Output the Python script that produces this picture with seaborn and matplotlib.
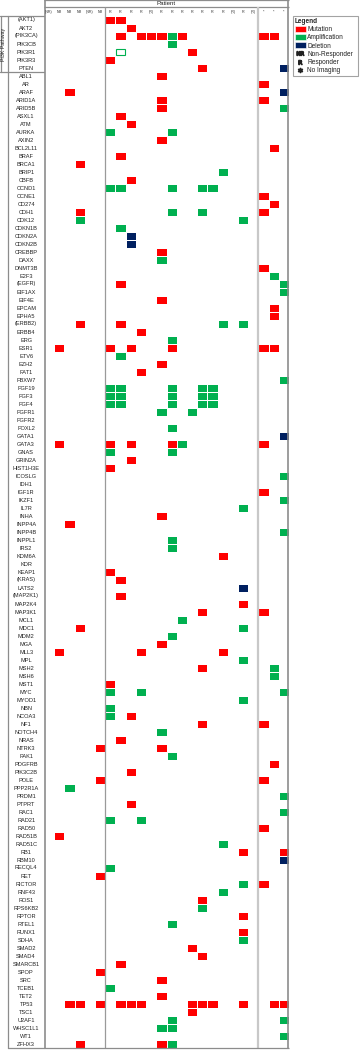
import numpy as np
import pandas as pd
import matplotlib
matplotlib.use("Agg")
import matplotlib.pyplot as plt
from matplotlib.colors import ListedColormap
from matplotlib.patches import Patch, Rectangle
from matplotlib.lines import Line2D
import seaborn as sns

# ---------------- data ----------------
genes = [
    "(AKT1)", "AKT2", "(PIK3CA)", "PIK3CB", "PIK3R1", "PIK3R3", "PTEN",
    "ABL1", "AR", "ARAF", "ARID1A", "ARID5B", "ASXL1", "ATM", "AURKA", "AXIN2",
    "BCL2L11", "BRAF", "BRCA1", "BRIP1", "CBFB", "CCND1", "CCNE1", "CD274",
    "CDH1", "CDK12", "CDKN1B", "CDKN2A", "CDKN2B", "CREBBP", "DAXX", "DNMT3B",
    "E2F3", "(EGFR)", "EIF1AX", "EIF4E", "EPCAM", "EPHA5", "(ERBB2)", "ERBB4",
    "ERG", "ESR1", "ETV6", "EZH2", "FAT1", "FBXW7", "FGF19", "FGF3", "FGF4",
    "FGFR1", "FGFR2", "FOXL2", "GATA1", "GATA3", "GNAS", "GRIN2A", "HIST1H3E",
    "ICOSLG", "IDH1", "IGF1R", "IKZF1", "IL7R", "INHA", "INPP4A", "INPP4B",
    "INPPL1", "IRS2", "KDM6A", "KDR", "KEAP1", "(KRAS)", "LATS2", "(MAP2K1)",
    "MAP2K4", "MAP3K1", "MCL1", "MDC1", "MDM2", "MGA", "MLL3", "MPL", "MSH2",
    "MSH6", "MST1", "MYC", "MYOD1", "NBN", "NCOA3", "NF1", "NOTCH4", "NRAS",
    "NTRK3", "PAK1", "PDGFRB", "PIK3C2B", "POLE", "PPP2R1A", "PRDM1", "PTPRT",
    "RAC1", "RAD21", "RAD50", "RAD51B", "RAD51C", "RB1", "RBM10", "RECQL4",
    "RET", "RICTOR", "RNF43", "ROS1", "RPS6KB2", "RPTOR", "RTEL1", "RUNX1",
    "SDHA", "SMAD2", "SMAD4", "SMARCB1", "SPOP", "SRC", "TCEB1", "TET2", "TP53",
    "TSC1", "U2AF1", "WHSC1L1", "WT1", "ZFHX3",
]
n_pi3k = 7
pathway_label = "PI3K Pathway"

patient_labels = ["(NR)", "NR", "NR", "NR", "(NR)", "NR",
                  "R", "R", "R", "R", "(R)", "R", "R", "R", "R", "R", "R", "R",
                  "(R)", "R", "(R)",
                  "*", "*", "*"]

# (gene, patient column index)
mutations = [
    ("(AKT1)", 6), ("(AKT1)", 7), ("AKT2", 8),
    ("(PIK3CA)", 7), ("(PIK3CA)", 9), ("(PIK3CA)", 10), ("(PIK3CA)", 11),
    ("(PIK3CA)", 13), ("(PIK3CA)", 21), ("(PIK3CA)", 22),
    ("PIK3R1", 14), ("PIK3R3", 6), ("PTEN", 15),
    ("ABL1", 11), ("AR", 21), ("ARAF", 2), ("ARID1A", 11), ("ARID1A", 21),
    ("ARID5B", 11), ("ASXL1", 7), ("ATM", 8), ("AXIN2", 11), ("BCL2L11", 22),
    ("BRAF", 7), ("BRCA1", 3), ("CBFB", 8), ("CCNE1", 21), ("CD274", 22),
    ("CDH1", 3), ("CDH1", 21), ("CREBBP", 11), ("DNMT3B", 21), ("(EGFR)", 7),
    ("EIF4E", 11), ("EPCAM", 22), ("EPHA5", 22), ("(ERBB2)", 3), ("(ERBB2)", 7),
    ("ERBB4", 9), ("ESR1", 1), ("ESR1", 6), ("ESR1", 8), ("ESR1", 12),
    ("ESR1", 21), ("ESR1", 22), ("EZH2", 11), ("FAT1", 9),
    ("GATA3", 1), ("GATA3", 6), ("GATA3", 8), ("GATA3", 12), ("GATA3", 21),
    ("GRIN2A", 8), ("HIST1H3E", 6), ("IGF1R", 21), ("INHA", 11), ("INPP4A", 2),
    ("KDM6A", 17), ("KEAP1", 6), ("(KRAS)", 7), ("(MAP2K1)", 7), ("MAP2K4", 19),
    ("MAP3K1", 15), ("MAP3K1", 21), ("MDC1", 3), ("MGA", 11),
    ("MLL3", 1), ("MLL3", 9), ("MLL3", 17), ("MSH2", 15), ("MST1", 6),
    ("NCOA3", 8), ("NF1", 15), ("NF1", 21), ("NRAS", 7), ("NTRK3", 5),
    ("NTRK3", 11), ("PDGFRB", 22), ("PIK3C2B", 8), ("POLE", 5), ("POLE", 21),
    ("PTPRT", 8), ("RAD50", 21), ("RAD51B", 1), ("RB1", 19), ("RB1", 23),
    ("RET", 5), ("RICTOR", 21), ("ROS1", 15), ("RPTOR", 19), ("RUNX1", 19),
    ("SMAD2", 14), ("SMAD4", 15), ("SMARCB1", 7), ("SPOP", 5), ("SRC", 11),
    ("TET2", 11),
    ("TP53", 2), ("TP53", 3), ("TP53", 5), ("TP53", 7), ("TP53", 8), ("TP53", 9),
    ("TP53", 14), ("TP53", 15), ("TP53", 16), ("TP53", 19), ("TP53", 22),
    ("TP53", 23),
    ("TSC1", 14), ("ZFHX3", 3), ("ZFHX3", 11),
]

amplifications = [
    ("(PIK3CA)", 12), ("PIK3CB", 12), ("ARID5B", 23), ("AURKA", 6), ("AURKA", 12),
    ("BRIP1", 17), ("CCND1", 6), ("CCND1", 7), ("CCND1", 12), ("CCND1", 15),
    ("CCND1", 16), ("CDH1", 12), ("CDH1", 15), ("CDK12", 3), ("CDK12", 19),
    ("CDKN1B", 7), ("DAXX", 11), ("E2F3", 22), ("(EGFR)", 23), ("EIF1AX", 23),
    ("(ERBB2)", 17), ("(ERBB2)", 19), ("ERG", 12), ("ETV6", 7), ("FBXW7", 23),
    ("FGF19", 6), ("FGF19", 7), ("FGF19", 12), ("FGF19", 15), ("FGF19", 16),
    ("FGF3", 6), ("FGF3", 7), ("FGF3", 12), ("FGF3", 15), ("FGF3", 16),
    ("FGF4", 6), ("FGF4", 7), ("FGF4", 12), ("FGF4", 15), ("FGF4", 16),
    ("FGFR1", 11), ("FGFR1", 14), ("FOXL2", 12), ("GATA3", 13), ("GNAS", 6),
    ("GNAS", 12), ("ICOSLG", 23), ("IKZF1", 23), ("IL7R", 19), ("INPP4B", 23),
    ("INPPL1", 12), ("IRS2", 12), ("MCL1", 13), ("MDC1", 19), ("MDM2", 12),
    ("MPL", 19), ("MSH2", 22), ("MSH6", 22), ("MYC", 6), ("MYC", 9), ("MYC", 23),
    ("MYOD1", 19), ("NBN", 6), ("NCOA3", 6), ("NOTCH4", 11), ("PAK1", 12),
    ("PPP2R1A", 2), ("PRDM1", 23), ("RAC1", 23), ("RAD21", 6), ("RAD21", 9),
    ("RAD51C", 17), ("RECQL4", 6), ("RICTOR", 19), ("RNF43", 17),
    ("RPS6KB2", 15), ("RTEL1", 12), ("SDHA", 19), ("TCEB1", 6), ("U2AF1", 12),
    ("U2AF1", 23), ("WHSC1L1", 11), ("WHSC1L1", 12), ("WT1", 23), ("ZFHX3", 12),
]

deletions = [
    ("PTEN", 23), ("ARAF", 23), ("CDKN2A", 8), ("CDKN2B", 8), ("GATA1", 23),
    ("LATS2", 19), ("RBM10", 23),
]

outlined_amplifications = [("PIK3R1", 7)]

legend_labels = ["Mutation", "Amplification", "Deletion",
                 "Non-Responder", "Responder", "No Imaging"]

# ---------------- style ----------------
RED, GREEN, NAVY = "#FF0000", "#00B050", "#002060"
sns.set_style("white")
plt.rcParams["font.family"] = ["Liberation Sans", "DejaVu Sans"]

W, H = 360, 1050
def fx(px): return px / W
def fy(py): return 1 - py / H

n_rows, n_cols = len(genes), len(patient_labels)
codes = pd.DataFrame(0, index=genes, columns=range(n_cols))
for g, c in mutations:
    codes.loc[g, c] = 1
for g, c in amplifications:
    codes.loc[g, c] = 2
for g, c in deletions:
    codes.loc[g, c] = 3

fig = plt.figure(figsize=(W / 100, H / 100), dpi=100)
grid_top, grid_bot = 16, 1048
row_px = (grid_bot - grid_top) / n_rows
header_rows = grid_top / row_px
ax = fig.add_axes([fx(44), fy(grid_bot), fx(289) - fx(44), grid_bot / H])

sns.heatmap(codes, mask=(codes == 0), cmap=ListedColormap([RED, GREEN, NAVY]),
            vmin=0.5, vmax=3.5, cbar=False, linewidths=0.55, linecolor="white",
            xticklabels=False, yticklabels=genes, ax=ax)
ax.set_xlim(0, n_cols)
ax.set_ylim(n_rows, -header_rows)
for s in ax.spines.values():
    s.set_visible(False)
ax.set_ylabel("")
ax.set_xlabel("")
ax.tick_params(axis="y", length=0, pad=12.9, labelsize=4.1, labelcolor="#222222")
for t in ax.get_yticklabels():
    t.set_ha("center")
    t.set_rotation(0)

for g, c in outlined_amplifications:
    r = genes.index(g)
    ax.add_patch(Rectangle((c + 0.06, r + 0.08), 0.88, 0.84, fill=False,
                           edgecolor=GREEN, lw=0.8))

# header
sub_y = -header_rows + 7 / row_px
ax.hlines([-header_rows + 0.06, sub_y], 0, n_cols, color="#8c8c8c", lw=0.9, clip_on=False)
ax.text(n_cols / 2, -header_rows + 3.8 / row_px, "Patient", ha="center", va="center",
        fontsize=4.4, color="#222222")
for i, lab in enumerate(patient_labels):
    ax.text(i + 0.5, -header_rows + 12 / row_px, lab, ha="center", va="center",
            fontsize=2.7, color="#333333")

# grid separators
ax.vlines([0.05, n_cols - 0.05], -header_rows, n_rows, color="#8c8c8c", lw=1.2, clip_on=False)
ax.vlines(6, sub_y, n_rows, color="#9a9a9a", lw=0.9)
ax.vlines(21, sub_y, n_rows, color="#c8c8c8", lw=1.6)
ax.hlines(n_rows - 0.05, 0, n_cols, color="#8c8c8c", lw=0.9, clip_on=False)

# label column box
def fline(x0, y0, x1, y1, lw=0.9, c="#8c8c8c"):
    fig.add_artist(Line2D([fx(x0), fx(x1)], [fy(y0), fy(y1)], color=c, lw=lw,
                          transform=fig.transFigure))
pi3k_bottom = grid_top + n_pi3k * row_px
fline(7.5, grid_top, 7.5, grid_bot)
fline(0.5, grid_top, 0.5, pi3k_bottom)
fline(0, grid_top, 44, grid_top)
fline(0, pi3k_bottom, 44, pi3k_bottom)
fline(7.5, grid_bot - 0.5, 44, grid_bot - 0.5)
fig.text(fx(4), fy((grid_top + pi3k_bottom) / 2), pathway_label, rotation=90,
         ha="center", va="center", fontsize=3.8, color="#222222")

# legend
handles = [
    Patch(facecolor=RED, edgecolor="white", lw=0.4),
    Patch(facecolor=GREEN, edgecolor="white", lw=0.4),
    Patch(facecolor=NAVY, edgecolor="white", lw=0.4),
    Line2D([0], [0], marker=r"$\mathrm{NR}$", ls="none", color="#222222", markersize=5),
    Line2D([0], [0], marker=r"$\mathrm{R}$", ls="none", color="#222222", markersize=3),
    Line2D([0], [0], marker=r"$*$", ls="none", color="#222222", markersize=3),
]
leg = fig.legend(handles, legend_labels, loc="upper left",
                 bbox_to_anchor=(fx(293), fy(72), fx(358) - fx(293), fy(16) - fy(72)),
                 bbox_transform=fig.transFigure, mode="expand",
                 borderaxespad=0, frameon=True, fancybox=False, fontsize=4.7,
                 title="Legend", title_fontproperties={"weight": "bold", "size": 4.7},
                 alignment="left", handlelength=1.7, handleheight=1.05,
                 handletextpad=0.2, labelspacing=0.16, borderpad=0.25)
leg.get_frame().set_edgecolor("#8c8c8c")
leg.get_frame().set_linewidth(0.8)
for t in leg.get_texts():
    t.set_color("#222222")

fig.savefig("out.png", dpi=100)
